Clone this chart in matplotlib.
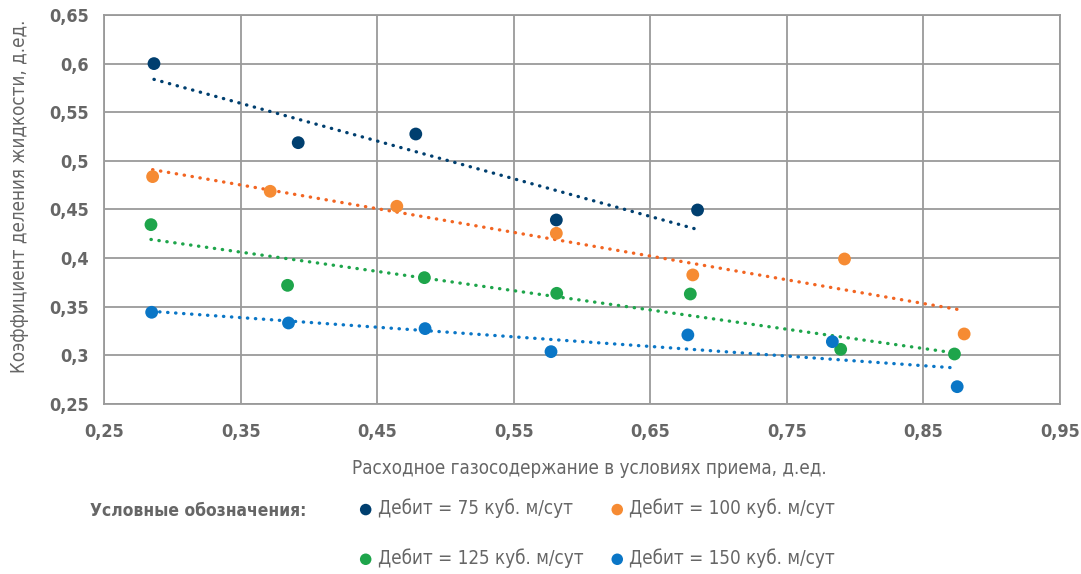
import numpy as np
import matplotlib
matplotlib.use("Agg")
import matplotlib.pyplot as plt
from matplotlib.ticker import FuncFormatter, FixedLocator

plt.rcParams['font.family'] = ['DejaVu Sans']
plt.rcParams['font.stretch'] = 'condensed'

labels = ['Дебит = 75 куб. м/сут', 'Дебит = 100 куб. м/сут',
          'Дебит = 125 куб. м/сут', 'Дебит = 150 куб. м/сут']

x75 = [0.2866, 0.3922, 0.4783, 0.5812, 0.6846]
y75 = [0.600, 0.5187, 0.5276, 0.4392, 0.4495]

x100 = [0.2856, 0.3717, 0.4644, 0.5812, 0.6811, 0.7922, 0.8798]
y100 = [0.4838, 0.4687, 0.4533, 0.4255, 0.3827, 0.3991, 0.3220]

x125 = [0.2844, 0.3844, 0.4846, 0.5815, 0.6793, 0.7894, 0.8727]
y125 = [0.4344, 0.3720, 0.3799, 0.3638, 0.3631, 0.3062, 0.3014]

x150 = [0.2849, 0.3851, 0.4851, 0.5773, 0.6775, 0.7833, 0.8747]
y150 = [0.3443, 0.3333, 0.3275, 0.3038, 0.3210, 0.3141, 0.2678]

xticks = [0.25, 0.35, 0.45, 0.55, 0.65, 0.75, 0.85, 0.95]
yticks = [0.25, 0.3, 0.35, 0.4, 0.45, 0.5, 0.55, 0.6, 0.65]

series = [(x75, y75), (x100, y100), (x125, y125), (x150, y150)]
point_colors = ['#003f6f', '#f68b33', '#1ea54b', '#0a76c6']
line_colors = ['#003f6f', '#f26522', '#1ea54b', '#0a76c6']

text_gray = '#666666'
grid_gray = '#9a9a9a'

fig = plt.figure(figsize=(10.81, 5.74), dpi=100)
ax = fig.add_axes([0.0962, 0.2962, 0.8844, 0.6777])

handles = []
for (xs, ys), pc, lc, lab in zip(series, point_colors, line_colors, labels):
    xs = np.array(xs)
    ys = np.array(ys)
    # linear trend line over the data range
    k, b = np.polyfit(xs, ys, 1)
    xt = np.array([xs.min(), xs.max()])
    ax.plot(xt, k * xt + b, color=lc, lw=2.4, linestyle=(0, (0.1, 2.3)),
            dash_capstyle='round', zorder=2)
    h = ax.scatter(xs, ys, s=85, color=pc, edgecolors='none', zorder=3, label=lab)
    handles.append(h)

ax.set_xlim(0.25, 0.95)
ax.set_ylim(0.25, 0.65)
ax.xaxis.set_major_locator(FixedLocator(xticks))
ax.yaxis.set_major_locator(FixedLocator(yticks))

def comma(v, pos):
    s = ('%.2f' % v).rstrip('0').rstrip('.')
    return s.replace('.', ',')

ax.xaxis.set_major_formatter(FuncFormatter(comma))
ax.yaxis.set_major_formatter(FuncFormatter(comma))

ax.grid(True, color=grid_gray, lw=1.3)
ax.set_axisbelow(True)
for sp in ax.spines.values():
    sp.set_color(grid_gray)
    sp.set_linewidth(1.3)
ax.tick_params(length=0, colors=text_gray, labelsize=13)
ax.tick_params(axis='x', pad=14)
ax.tick_params(axis='y', pad=11)
for t in ax.get_xticklabels() + ax.get_yticklabels():
    t.set_fontweight('bold')

ax.set_xlabel('Расходное газосодержание в условиях приема, д.ед.',
              fontsize=13.5, color=text_gray, va='center')
ax.xaxis.set_label_coords(0.508, -0.165)
ax.set_ylabel('Коэффициент деления жидкости, д.ед.',
              fontsize=13.5, color=text_gray, va='center')
ax.yaxis.set_label_coords(-0.088, 0.535)

fig.text(0.083, 1 - 511 / 574, 'Условные обозначения:', fontsize=12.5,
         fontweight='bold', color=text_gray, va='center', ha='left')

leg = fig.legend([handles[0], handles[2], handles[1], handles[3]],
                 [labels[0], labels[2], labels[1], labels[3]],
                 loc='center left', bbox_to_anchor=(0.314, 1 - 533.5 / 574),
                 ncol=2, frameon=False, fontsize=13.5, handletextpad=0.15,
                 columnspacing=1.3, labelspacing=1.6, handlelength=1.0,
                 markerscale=0.9)
for t in leg.get_texts():
    t.set_color(text_gray)

fig.savefig('out.png', dpi=100)
